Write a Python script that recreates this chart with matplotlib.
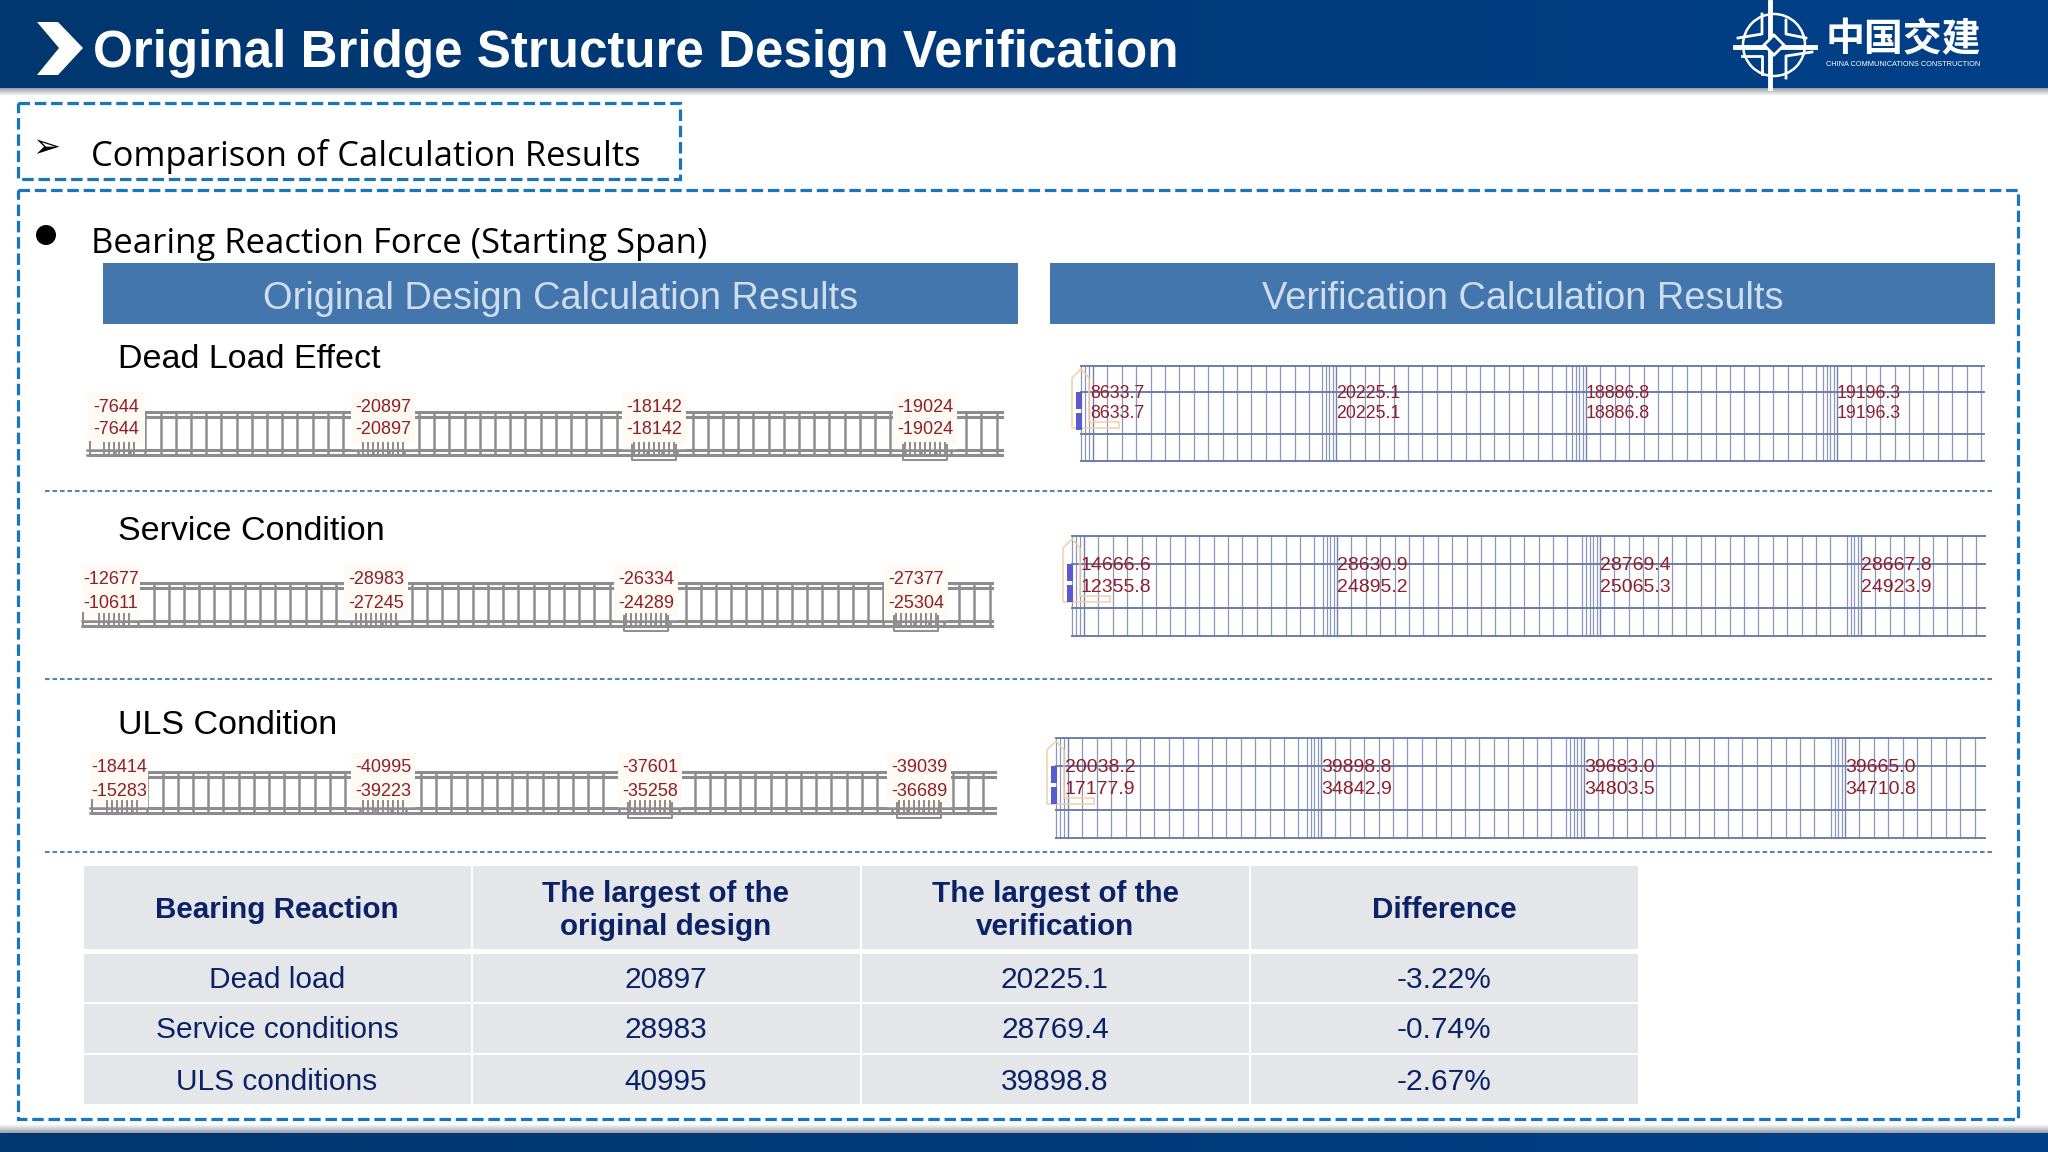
import numpy as np
import matplotlib
matplotlib.use('Agg')
import matplotlib.pyplot as plt
from matplotlib.colors import LinearSegmentedColormap
from matplotlib.patches import Rectangle, Polygon, Circle

plt.rcParams['font.family'] = ['Liberation Sans', 'DejaVu Sans']

# text
title = "Original Bridge Structure Design Verification"
section = "Comparison of Calculation Results"
bullet = "Bearing Reaction Force (Starting Span)"
col_titles = ["Original Design Calculation Results", "Verification Calculation Results"]
row_titles = ["Dead Load Effect", "Service Condition", "ULS Condition"]

# values in the pictures of the two models
orig_top = [["-7644", "-20897", "-18142", "-19024"],
            ["-12677", "-28983", "-26334", "-27377"],
            ["-18414", "-40995", "-37601", "-39039"]]
orig_bot = [["-7644", "-20897", "-18142", "-19024"],
            ["-10611", "-27245", "-24289", "-25304"],
            ["-15283", "-39223", "-35258", "-36689"]]
veri_top = [["8633.7", "20225.1", "18886.8", "19196.3"],
            ["14666.6", "28630.9", "28769.4", "28667.8"],
            ["20038.2", "39898.8", "39683.0", "39665.0"]]
veri_bot = [["8633.7", "20225.1", "18886.8", "19196.3"],
            ["12355.8", "24895.2", "25065.3", "24923.9"],
            ["17177.9", "34842.9", "34803.5", "34710.8"]]

# table
table_head = ["Bearing Reaction", "The largest of the\noriginal design",
              "The largest of the\nverification", "Difference"]
table_names = ["Dead load", "Service conditions", "ULS conditions"]
table_orig = ["20897", "28983", "40995"]
table_veri = ["20225.1", "28769.4", "39898.8"]
table_diff = ["-3.22%", "-0.74%", "-2.67%"]

NAVY = '#0b2266'
DASH = '#1776bd'
RED = '#8e1f2c'
GREY = '#8d8d8d'
GRID = '#6f7ea8'

fig = plt.figure(figsize=(20.48, 11.52), dpi=100)
ax = fig.add_axes([0, 0, 1, 1])

# header and footer bands
band = LinearSegmentedColormap.from_list('band', ['#02376f', '#003a7a', '#004089'])
grad = np.linspace(0, 1, 256).reshape(1, -1)
ax.imshow(grad, cmap=band, extent=(0, 2048, 88, 0), aspect='auto', zorder=1)
ax.imshow(grad, cmap=band, extent=(0, 2048, 1152, 1133), aspect='auto', zorder=1)
shade = LinearSegmentedColormap.from_list('shade', ['#9aa0a8', '#ffffff'])
ax.imshow(np.linspace(0, 1, 16).reshape(-1, 1), cmap=shade, extent=(0, 2048, 96, 88), aspect='auto', zorder=1)
ax.imshow(np.linspace(1, 0, 16).reshape(-1, 1), cmap=shade, extent=(0, 2048, 1133, 1124), aspect='auto', zorder=1)
ax.set_xlim(0, 2048)
ax.set_ylim(1152, 0)
ax.axis('off')

ax.add_patch(Polygon([(37, 22), (58, 22), (83, 48), (58, 75), (37, 75), (59, 48)], fc='white', ec='none', zorder=2))
ax.text(93, 54, title, color='white', fontsize=36.8, fontweight='bold', va='center', ha='left', zorder=3)

# logo
ax.add_patch(Circle((1774, 45), 31, fc='none', ec='white', lw=1.8, zorder=2))
ax.plot([1770, 1770], [2, 88], color='white', lw=3.5, zorder=2)
ax.plot([1735, 1815], [47, 47], color='white', lw=3.5, zorder=2)
ax.plot([1762, 1762, 1738], [14, 34, 38], color='white', lw=2, zorder=3)
ax.plot([1786, 1786, 1806], [20, 34, 38], color='white', lw=2, zorder=3)
ax.plot([1762, 1762, 1742], [74, 56, 56], color='white', lw=2, zorder=3)
ax.plot([1786, 1786, 1812], [78, 56, 52], color='white', lw=2, zorder=3)
ax.add_patch(Polygon([(1774, 35), (1784, 45), (1774, 55), (1764, 45)], fc='#003f87', ec='white', lw=2, zorder=4))
ax.text(1903, 40, "中国交建", color='white', fontsize=28, family=['Noto Sans CJK SC', 'DejaVu Sans'],
        fontweight='bold', ha='center', va='center', zorder=3)
ax.text(1903, 65, "CHINA COMMUNICATIONS CONSTRUCTION", color='white', fontsize=5.3,
        ha='center', va='center', zorder=3)

# dashed frames
for x0, y0, x1, y1 in [(18, 103, 680, 179), (18, 190, 2018, 1119)]:
    ax.add_patch(Rectangle((x0, y0), x1 - x0, y1 - y0, fc='none', ec=DASH, lw=2.3,
                           ls=(0, (3.6, 1.5)), zorder=2))

ax.text(46, 148, "➢", fontsize=24, color='black', family='DejaVu Sans', ha='center', va='center', zorder=3)
ax.text(91, 156, section, fontsize=24.8, family='Open Sans', color='black', va='center', zorder=3)
ax.add_patch(Circle((46, 235), 10, fc='black', ec='none', zorder=3))
ax.text(91, 244, bullet, fontsize=24.9, family='Open Sans', color='black', va='center', zorder=3)

# column title bars
for (x0, x1), name in zip([(103, 1018), (1050, 1995)], col_titles):
    ax.add_patch(Rectangle((x0, 263), x1 - x0, 61, fc='#4276ad', ec='none', zorder=2))
    ax.text((x0 + x1) / 2, 299, name, fontsize=27.4, color='#cfdcec', ha='center', va='center', zorder=3)

for y, name in zip([360, 531, 726], row_titles):
    ax.text(118, y, name, fontsize=24.5, color='black', va='center', zorder=3)
for y in [491, 679, 852]:
    ax.plot([45, 1992], [y, y], color='#4f86b5', lw=1.5, ls=(0, (2.2, 1.4)), zorder=2)


def bridge(x0, x1, y_top, y_bot, y_lab, xs, top, bot):
    for y in [y_top, y_top + 5]:
        ax.plot([x0 + 16, x1], [y, y], color=GREY, lw=2.2, zorder=2)
    for y in [y_bot, y_bot + 5]:
        ax.plot([x0, x1], [y, y], color=GREY, lw=2.2, zorder=2)
    for xp in np.arange(x0 + 25, x1, 15.2):
        ax.plot([xp, xp], [y_top, y_bot + 5], color=GREY, lw=1.8, zorder=2)
    # the end bracket and the details at the piers
    ax.plot([x0, x0, x0 + 14], [y_bot - 8, y_bot + 5, y_bot + 5], color=GREY, lw=1.5, zorder=4)
    for i, (xc, t, b) in enumerate(zip(xs, top, bot)):
        half = 32 if i else 29
        ax.add_patch(Rectangle((xc - half, y_lab[0] - 15), 2 * half, y_lab[1] - y_lab[0] + 30, fc='#fffaf3', ec='none', zorder=3))
        ax.add_patch(Rectangle((xc - half, y_lab[1] + 15), 2 * half, y_bot - y_lab[1] - 15, fc='white', ec='none', zorder=3))
        for xp in np.arange(xc - 20 if i else xc - 12, xc + 22, 5):
            ax.plot([xp, xp], [y_bot - 7, y_bot + 3], color=GREY, lw=1.4, zorder=4)
        ax.plot([xc - half, xc + half], [y_bot, y_bot], color=GREY, lw=1.8, zorder=4)
        ax.plot([xc - half, xc + half], [y_bot + 5, y_bot + 5], color=GREY, lw=1.8, zorder=4)
        if i >= 2:
            ax.plot([xc - 22, xc - 22, xc + 22, xc + 22], [y_bot - 5, y_bot + 10, y_bot + 10, y_bot - 5], color=GREY, lw=1.4, zorder=4)
        for y, s in zip(y_lab, [t, b]):
            ax.text(xc, y, s, fontsize=13, color=RED, ha='center', va='center', zorder=5)


def model(x0, x1, ys, y_lab, xs, top, bot, size):
    step = 14.4
    lines = list(np.arange(x0, x0 + 13, 4))
    for a, b in zip([x0 + 12] + xs[1:], xs[1:] + [x1 + 20]):
        lines += list(np.arange(a, b - 17, step))
        if b < x1:
            lines += list(np.arange(b - 14, b + 1, 3.5))
    for xp in lines:
        if xp <= x1:
            ax.plot([xp, xp], [ys[0], ys[3]], color=GRID, lw=.9, alpha=.8, zorder=2)
    for y in ys:
        ax.plot([x0, x1], [y, y], color=GRID, lw=1.4, zorder=2)
    # support symbols at the left end
    ax.add_patch(Polygon([(x0 - 9, ys[0] + 12), (x0, ys[0] + 3), (x0 + 8, ys[0] + 12), (x0 + 8, ys[2] - 12),
                          (x0 + 38, ys[2] - 12), (x0 + 38, ys[2] - 6), (x0 - 9, ys[2] - 6)],
                         fc='none', ec='#f3cfa4', lw=1.1, zorder=3))
    for yb in [ys[1] + 3, ys[1] + 24]:
        ax.add_patch(Rectangle((x0 - 5, yb - 3), 6, 17, fc='#5b5bd0', ec='none', zorder=4))
    for xc, t, b in zip(xs, top, bot):
        for y, s in zip(y_lab, [t, b]):
            ax.text(xc, y, s, fontsize=size, color=RED, ha='left', va='center', zorder=5)


bridge(90, 1002, 412, 450, (407, 430), [116, 383, 654, 925], orig_top[0], orig_bot[0])
bridge(83, 992, 583, 621, (579, 603), [111, 376, 646, 916], orig_top[1], orig_bot[1])
bridge(92, 995, 772, 808, (768, 791), [119, 383, 650, 919], orig_top[2], orig_bot[2])

model(1081, 1984, (366, 392, 434, 461), (394, 414), [1090, 1336, 1586, 1837], veri_top[0], veri_bot[0], 12.8)
model(1072, 1985, (536, 564, 608, 636), (566, 588), [1080, 1337, 1600, 1861], veri_top[1], veri_bot[1], 14)
model(1056, 1985, (738, 766, 810, 838), (767, 789), [1065, 1321, 1584, 1845], veri_top[2], veri_bot[2], 14)

# table
col_edges = [84, 473, 862, 1251, 1640]
row_edges = [(866, 949), (954, 1002), (1004, 1053), (1055, 1104)]
rows = [table_head] + [list(r) for r in zip(table_names, table_orig, table_veri, table_diff)]
for r, (y0, y1) in enumerate(row_edges):
    for c in range(4):
        x0, x1 = col_edges[c], col_edges[c + 1]
        ax.add_patch(Rectangle((x0, y0), x1 - x0 - 2, y1 - y0, fc='#e4e6ea', ec='none', zorder=2))
        ax.text((x0 + x1) / 2 - 1.5, (y0 + y1) / 2 + (3 if r == 0 else 2), rows[r][c], fontsize=21.3 if r == 0 else 21.5, color=NAVY,
                fontweight='bold' if r == 0 else 'normal', ha='center', va='center',
                linespacing=1.27, zorder=3)

fig.savefig('out.png', dpi=100)
